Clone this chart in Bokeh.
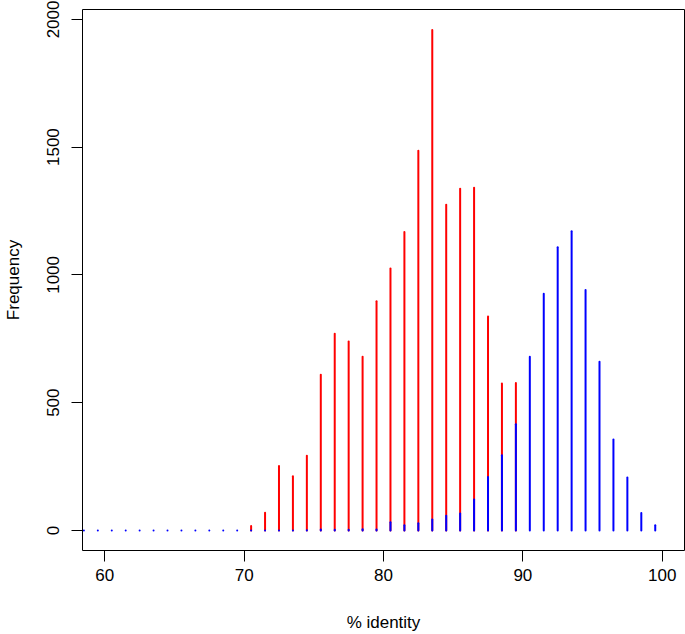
from bokeh.plotting import figure
from bokeh.models import ColumnDataSource, FixedTicker, Range1d
from bokeh.embed import file_html
from bokeh.resources import INLINE

# % identity bin midpoints
blue_x = [58.5, 59.5, 60.5, 61.5, 62.5, 63.5, 64.5, 65.5, 66.5, 67.5, 68.5, 69.5,
          70.5, 71.5, 72.5, 73.5, 74.5, 75.5, 76.5, 77.5, 78.5, 79.5,
          80.5, 81.5, 82.5, 83.5, 84.5, 85.5, 86.5, 87.5, 88.5, 89.5,
          90.5, 91.5, 92.5, 93.5, 94.5, 95.5, 96.5, 97.5, 98.5, 99.5]
blue_y = [0, 0, 0, 0, 0, 0, 0, 0, 0, 0, 0, 0,
          0, 0, 0, 0, 1, 4, 3, 3, 5, 4,
          32, 20, 28, 43, 58, 66, 121, 209, 294, 416,
          680, 926, 1108, 1171, 941, 660, 356, 207, 68, 20]

red_x = [70.5, 71.5, 72.5, 73.5, 74.5, 75.5, 76.5, 77.5, 78.5, 79.5,
         80.5, 81.5, 82.5, 83.5, 84.5, 85.5, 86.5, 87.5, 88.5, 89.5]
red_y = [17, 69, 252, 212, 292, 609, 770, 739, 680, 897,
         1025, 1168, 1486, 1958, 1274, 1337, 1341, 837, 575, 577]

x_ticks = [60, 70, 80, 90, 100]
y_ticks = [0, 500, 1000, 1500, 2000]

FONT = "Liberation Sans"

p = figure(width=685, height=634, output_backend="svg", toolbar_location=None,
           x_range=Range1d(58.4, 101.6), y_range=Range1d(-78.4, 2038.4),
           min_border_left=79, min_border_right=1, min_border_top=9,
           min_border_bottom=82)

red_src = ColumnDataSource(dict(x=red_x, y0=[0] * len(red_x), y1=red_y))
blue_src = ColumnDataSource(dict(x=blue_x, y0=[0] * len(blue_x), y1=blue_y))

p.segment(x0="x", y0="y0", x1="x", y1="y1", source=red_src,
          line_color="#ff0000", line_width=2, line_cap="round")
p.segment(x0="x", y0="y0", x1="x", y1="y1", source=blue_src,
          line_color="#0000ff", line_width=2, line_cap="round")

p.xgrid.visible = False
p.ygrid.visible = False
p.outline_line_color = "black"
p.outline_line_width = 1
p.background_fill_color = "white"
p.border_fill_color = "white"

p.xaxis.ticker = FixedTicker(ticks=x_ticks)
p.yaxis.ticker = FixedTicker(ticks=y_ticks)
p.xaxis.axis_label = "% identity"
p.yaxis.axis_label = "Frequency"

for ax in (p.xaxis, p.yaxis):
    ax.axis_line_color = None
    ax.major_tick_line_color = "black"
    ax.major_tick_out = 11
    ax.major_tick_in = 0
    ax.minor_tick_line_color = None
    ax.major_label_text_font = FONT
    ax.major_label_text_font_size = "17px"
    ax.major_label_text_color = "black"
    ax.axis_label_text_font = FONT
    ax.axis_label_text_font_size = "17px"
    ax.axis_label_text_font_style = "normal"
    ax.axis_label_text_color = "black"

p.xaxis.major_label_standoff = 7
p.xaxis.axis_label_standoff = 29
p.yaxis.major_label_standoff = 12
p.yaxis.major_label_orientation = "vertical"
p.yaxis.axis_label_standoff = 22

open("out.html", "w").write(file_html(p, INLINE))
